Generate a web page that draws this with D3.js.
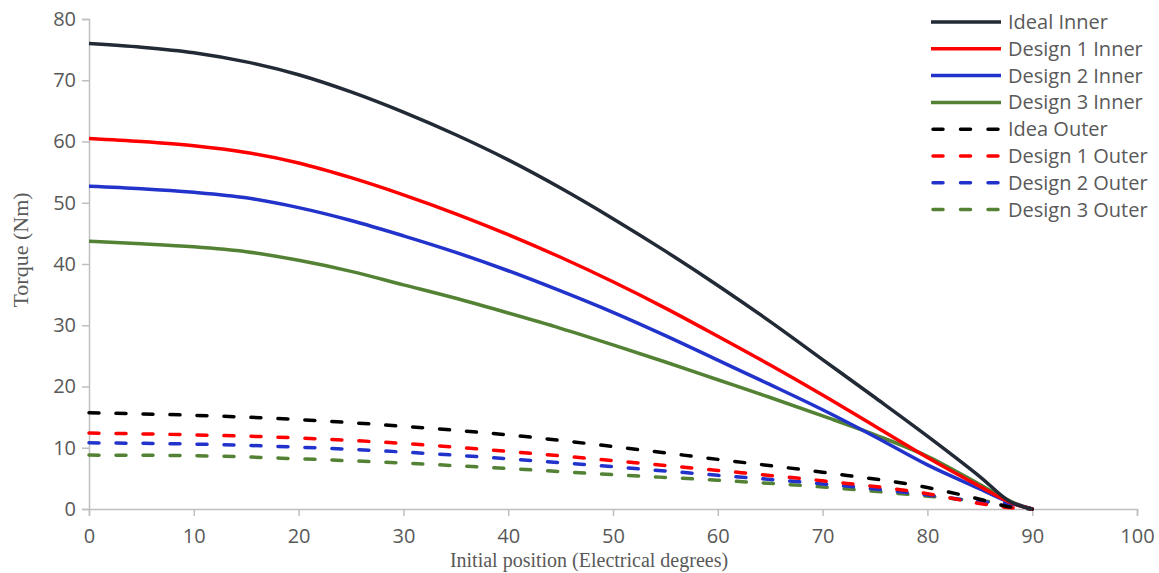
<!DOCTYPE html>
<html>
<head>
<meta charset="utf-8">
<script src="https://cdn.jsdelivr.net/npm/d3@7"></script>
<style>
  body { margin: 0; background: #fff; }
  svg text { fill: #595959; }
</style>
</head>
<body>
<svg id="chart" width="1159" height="573"></svg>
<script>
// Data
const innerX = [0, 5, 10, 15, 20, 25, 30, 35, 40, 45, 50, 55, 60, 65, 70, 75, 80, 85, 88, 90];
const idealInner   = [76.0, 75.4, 74.5, 73.0, 70.9, 68.1, 64.8, 61.1, 57.0, 52.4, 47.4, 42.1, 36.5, 30.6, 24.4, 18.2, 11.9, 5.3, 1.1, 0];
const design1Inner = [60.5, 60.0, 59.3, 58.2, 56.5, 54.1, 51.3, 48.2, 44.8, 41.1, 37.1, 32.8, 28.2, 23.5, 18.6, 13.5, 8.4, 3.7, 1.0, 0];
const design2Inner = [52.7, 52.3, 51.7, 50.8, 49.2, 47.1, 44.6, 41.9, 38.9, 35.6, 32.1, 28.3, 24.3, 20.3, 16.2, 11.8, 7.2, 3.3, 1.0, 0];
const design3Inner = [43.7, 43.3, 42.8, 42.0, 40.6, 38.8, 36.6, 34.4, 32.0, 29.5, 26.8, 24.0, 21.1, 18.2, 15.2, 12.1, 8.6, 4.0, 1.2, 0];

const outerX = [0, 10, 20, 30, 40, 50, 60, 70, 80, 85, 88, 90];
const idealOuter   = [15.7, 15.3, 14.6, 13.5, 12.1, 10.2, 8.1, 6.0, 3.5, 1.6, 0.3, 0];
const design1Outer = [12.4, 12.1, 11.6, 10.7, 9.4, 7.9, 6.3, 4.6, 2.5, 0.9, 0.2, 0];
const design2Outer = [10.8, 10.6, 10.1, 9.3, 8.2, 6.9, 5.5, 4.1, 2.3, 1.2, 0.8, 0];
const design3Outer = [8.8, 8.7, 8.2, 7.5, 6.6, 5.6, 4.7, 3.6, 2.1, 1.3, 0.9, 0];

const xTicks = [0, 10, 20, 30, 40, 50, 60, 70, 80, 90, 100];
const yTicks = [0, 10, 20, 30, 40, 50, 60, 70, 80];

const series = [
  { name: "Ideal Inner",    xs: innerX, ys: idealInner,   color: "#222a35", dashed: false },
  { name: "Design 1 Inner", xs: innerX, ys: design1Inner, color: "#ff0000", dashed: false },
  { name: "Design 2 Inner", xs: innerX, ys: design2Inner, color: "#2233cc", dashed: false },
  { name: "Design 3 Inner", xs: innerX, ys: design3Inner, color: "#548235", dashed: false },
  { name: "Idea Outer",     xs: outerX, ys: idealOuter,   color: "#000000", dashed: true },
  { name: "Design 1 Outer", xs: outerX, ys: design1Outer, color: "#ff0000", dashed: true },
  { name: "Design 2 Outer", xs: outerX, ys: design2Outer, color: "#2233cc", dashed: true },
  { name: "Design 3 Outer", xs: outerX, ys: design3Outer, color: "#548235", dashed: true }
];

const svg = d3.select("#chart");
const margin = { left: 89, right: 22, top: 19, bottom: 64 };
const W = +svg.attr("width"), H = +svg.attr("height");

const x = d3.scaleLinear().domain([0, 100]).range([margin.left, W - margin.right]);
const y = d3.scaleLinear().domain([0, 80]).range([H - margin.bottom, margin.top]);

const axisColor = "#bfbfbf";
const tickFont = "'Open Sans', 'Noto Sans', sans-serif";

// Axes
const gx = svg.append("g")
  .attr("transform", `translate(0,${y(0)})`)
  .call(d3.axisBottom(x).tickValues(xTicks).tickSize(7).tickPadding(13));
const gy = svg.append("g")
  .attr("transform", `translate(${x(0)},0)`)
  .call(d3.axisLeft(y).tickValues(yTicks).tickSize(7).tickPadding(6));

[gx, gy].forEach(g => {
  g.selectAll("path, line").attr("stroke", axisColor).attr("stroke-width", 1.5);
  g.selectAll("text")
    .attr("font-family", tickFont)
    .attr("font-size", 20)
    .attr("fill", "#595959");
});

// Axis titles
svg.append("text")
  .attr("transform", "translate(28,250) rotate(-90)")
  .attr("text-anchor", "middle")
  .attr("font-family", "'Liberation Serif', serif")
  .attr("font-size", 22)
  .text("Torque (Nm)");

svg.append("text")
  .attr("x", 589)
  .attr("y", 567)
  .attr("text-anchor", "middle")
  .attr("font-family", "'Liberation Serif', serif")
  .attr("font-size", 20)
  .text("Initial position (Electrical degrees)");

// Lines
const line = d3.line()
  .x(d => x(d[0]))
  .y(d => y(d[1]))
  .curve(d3.curveMonotoneX);

const drawOrder = [...series].reverse();
drawOrder.forEach(s => {
  svg.append("path")
    .datum(s.xs.map((v, i) => [v, s.ys[i]]))
    .attr("fill", "none")
    .attr("stroke", s.color)
    .attr("stroke-width", 3.5)
    .attr("stroke-linecap", s.dashed ? "round" : "butt")
    .attr("stroke-dasharray", s.dashed ? "10,17" : null)
    .attr("d", line);
});

// Legend
const legend = svg.append("g").attr("transform", "translate(931,22)");
series.forEach((s, i) => {
  const row = legend.append("g").attr("transform", `translate(0,${i * 26.8})`);
  row.append("line")
    .attr("x1", s.dashed ? 2 : 0).attr("x2", 70)
    .attr("y1", 0).attr("y2", 0)
    .attr("stroke", s.color)
    .attr("stroke-width", 3.5)
    .attr("stroke-linecap", s.dashed ? "round" : "butt")
    .attr("stroke-dasharray", s.dashed ? "10,17.5" : null);
  row.append("text")
    .attr("x", 77)
    .attr("y", 0)
    .attr("dy", "0.35em")
    .attr("font-family", tickFont)
    .attr("font-size", 20)
    .text(s.name);
});
</script>
</body>
</html>
